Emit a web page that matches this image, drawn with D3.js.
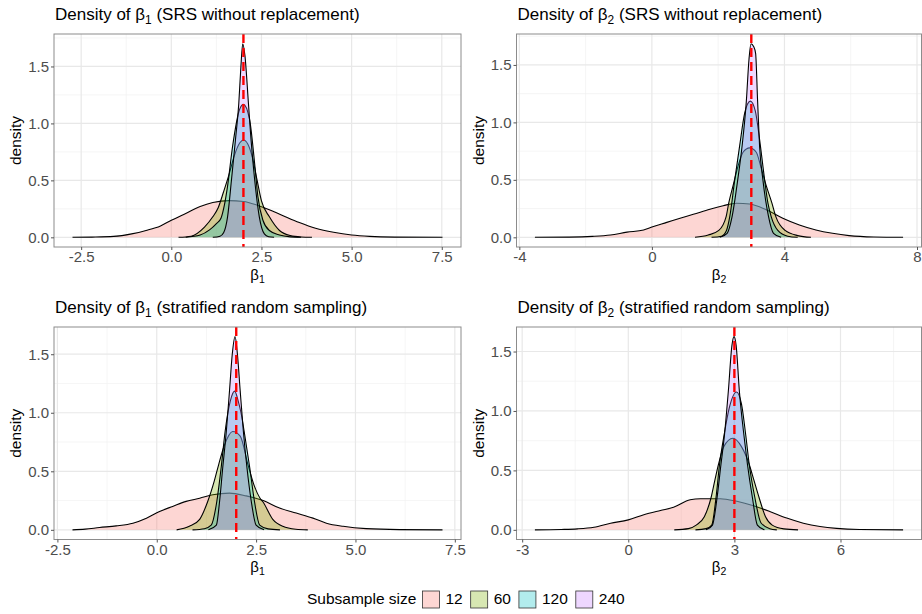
<!DOCTYPE html>
<html>
<head>
<meta charset="utf-8">
<script src="https://cdn.jsdelivr.net/npm/d3@7"></script>
<style>
  body { margin: 0; background: #fff; }
  text { font-family: "Liberation Sans", Arial, Helvetica, sans-serif; }
</style>
</head>
<body>
<svg id="chart" width="922" height="614"></svg>
<script>
// subsample sizes and their fills
const sizes = ["12", "60", "120", "240"];
const fills = ["#F8766D", "#7CAE00", "#00BFC4", "#C77CFF"];

// beta1, SRS without replacement: [estimate, density]
const b1Srs12 = [[-2.74,0],[-2.2,0.002],[-1.6,0.008],[-1.1,0.03],[-0.7,0.06],[-0.3,0.1],[0,0.15],[0.4,0.21],[0.8,0.27],[1.15,0.305],[1.6,0.322],[2.0,0.315],[2.4,0.28],[2.7,0.245],[3.1,0.19],[3.55,0.13],[4.0,0.08],[4.5,0.044],[5.0,0.02],[5.5,0.008],[6.2,0.002],[7.52,0]];
const b1Srs60 = [[0.2,0],[0.55,0.01],[0.92,0.09],[1.15,0.18],[1.3,0.26],[1.45,0.4],[1.6,0.55],[1.75,0.72],[1.9,0.83],[2.0,0.855],[2.12,0.82],[2.25,0.7],[2.38,0.5],[2.5,0.32],[2.72,0.18],[3.0,0.06],[3.3,0.015],[3.6,0.003],[3.9,0]];
const b1Srs120 = [[0.4,0],[0.8,0.02],[1.06,0.065],[1.25,0.12],[1.38,0.17],[1.47,0.28],[1.56,0.45],[1.7,0.8],[1.89,1.12],[2.0,1.167],[2.17,1.035],[2.31,0.65],[2.4,0.36],[2.54,0.15],[2.72,0.06],[3.0,0.02],[3.3,0.004],[3.6,0]];
const b1Srs240 = [[1.15,0],[1.35,0.01],[1.45,0.04],[1.56,0.18],[1.67,0.51],[1.78,0.86],[1.87,1.17],[1.93,1.5],[1.98,1.7],[2.04,1.6],[2.14,1.17],[2.21,0.86],[2.31,0.51],[2.44,0.18],[2.58,0.03],[2.7,0.005],[2.85,0]];

// beta2, SRS without replacement
const b2Srs12 = [[-3.53,0],[-2.5,0.002],[-1.8,0.008],[-1.25,0.02],[-0.75,0.045],[-0.25,0.064],[0,0.09],[0.45,0.13],[0.85,0.166],[1.25,0.2],[1.75,0.245],[2.15,0.275],[2.55,0.297],[2.95,0.29],[3.45,0.24],[3.95,0.166],[4.45,0.107],[4.95,0.064],[5.45,0.035],[5.95,0.015],[6.7,0.003],[7.58,0]];
const b2Srs60 = [[1.3,0],[1.7,0.02],[2.02,0.06],[2.24,0.18],[2.32,0.3],[2.45,0.45],[2.6,0.62],[2.75,0.74],[2.95,0.778],[3.15,0.74],[3.3,0.6],[3.45,0.45],[3.62,0.3],[3.74,0.18],[4.02,0.06],[4.4,0.015],[4.8,0]];
const b2Srs120 = [[1.8,0],[2.1,0.01],[2.25,0.06],[2.35,0.18],[2.5,0.5],[2.65,0.8],[2.8,1.08],[2.97,1.185],[3.12,1.1],[3.25,0.85],[3.38,0.55],[3.5,0.3],[3.6,0.18],[3.8,0.06],[4.1,0.01],[4.4,0]];
const b2Srs240 = [[2.05,0],[2.27,0.035],[2.42,0.18],[2.59,0.5],[2.72,0.79],[2.85,1.185],[2.93,1.55],[2.99,1.685],[3.07,1.66],[3.13,1.6],[3.19,1.185],[3.25,0.79],[3.35,0.5],[3.52,0.18],[3.67,0.035],[3.9,0]];

// beta1, stratified random sampling
const b1Str12 = [[-2.12,0],[-1.8,0.006],[-1.44,0.02],[-1.02,0.034],[-0.6,0.057],[-0.26,0.1],[0.07,0.157],[0.4,0.2],[0.74,0.243],[1.08,0.27],[1.41,0.3],[1.83,0.314],[2.25,0.29],[2.68,0.25],[3.09,0.186],[3.51,0.143],[3.93,0.1],[4.27,0.057],[4.69,0.03],[5.27,0.01],[6.11,0.002],[7.19,0]];
const b1Str60 = [[0.5,0],[0.82,0.03],[1.08,0.09],[1.28,0.24],[1.45,0.42],[1.56,0.56],[1.7,0.72],[1.91,0.84],[2.1,0.8],[2.3,0.55],[2.45,0.38],[2.6,0.27],[2.67,0.24],[2.92,0.09],[3.17,0.03],[3.5,0.005],[3.8,0]];
const b1Str120 = [[0.9,0],[1.2,0.01],[1.37,0.04],[1.51,0.24],[1.62,0.53],[1.72,0.84],[1.85,1.1],[1.96,1.185],[2.05,1.1],[2.12,1.0],[2.2,0.84],[2.34,0.53],[2.46,0.24],[2.59,0.04],[2.8,0.008],[3.1,0]];
const b1Str240 = [[1.3,0],[1.5,0.04],[1.58,0.24],[1.66,0.53],[1.75,0.84],[1.83,1.185],[1.9,1.5],[1.97,1.65],[2.03,1.5],[2.1,1.185],[2.18,0.84],[2.27,0.53],[2.38,0.24],[2.5,0.04],[2.7,0]];

// beta2, stratified random sampling
const b2Str12 = [[-2.64,0],[-1.9,0.003],[-1.44,0.008],[-0.97,0.022],[-0.5,0.056],[0,0.084],[0.44,0.127],[0.91,0.163],[1.28,0.19],[1.75,0.253],[2.04,0.262],[2.6,0.262],[3.07,0.24],[3.54,0.203],[4.0,0.155],[4.48,0.099],[4.95,0.056],[5.42,0.028],[5.89,0.012],[6.54,0.003],[7.77,0]];
const b2Str60 = [[1.3,0],[1.7,0.01],[1.92,0.04],[2.15,0.11],[2.34,0.27],[2.45,0.42],[2.55,0.55],[2.7,0.7],[2.96,0.77],[3.2,0.7],[3.42,0.55],[3.55,0.42],[3.7,0.27],[3.88,0.11],[4.07,0.04],[4.4,0.008],[4.8,0]];
const b2Str120 = [[1.9,0],[2.2,0.01],[2.36,0.04],[2.48,0.27],[2.58,0.55],[2.71,0.8],[2.85,1.02],[3.06,1.16],[3.2,1.06],[3.32,0.8],[3.42,0.55],[3.58,0.27],[3.75,0.06],[4.0,0.01],[4.2,0]];
const b2Str240 = [[2.2,0],[2.38,0.04],[2.51,0.27],[2.62,0.55],[2.71,0.77],[2.83,1.17],[2.93,1.55],[2.99,1.625],[3.05,1.55],[3.14,1.17],[3.28,0.77],[3.37,0.55],[3.51,0.27],[3.65,0.04],[3.85,0]];

// true parameter values (red dashed lines)
const trueB1 = 2, trueB2 = 3;

// tick values and labels
const b1Ticks = [-2.5, 0, 2.5, 5, 7.5];
const b1TickLabels = ["-2.5", "0.0", "2.5", "5.0", "7.5"];
const b2SrsTicks = [-4, 0, 4, 8];
const b2StrTicks = [-3, 0, 3, 6];
const densTicks = [0, 0.5, 1, 1.5];
const densTickLabels = ["0.0", "0.5", "1.0", "1.5"];

const panels = [
  {sub: "1", method: "SRS without replacement", curves: [b1Srs12, b1Srs60, b1Srs120, b1Srs240], truth: trueB1,
   xt: b1Ticks, xl: b1TickLabels, L: 54, R: 461, T: 34, B: 247, titleY: 20},
  {sub: "2", method: "SRS without replacement", curves: [b2Srs12, b2Srs60, b2Srs120, b2Srs240], truth: trueB2,
   xt: b2SrsTicks, xl: b2SrsTicks.map(String), L: 516.5, R: 921.5, T: 34, B: 247, titleY: 20},
  {sub: "1", method: "stratified random sampling", curves: [b1Str12, b1Str60, b1Str120, b1Str240], truth: trueB1,
   xt: b1Ticks, xl: b1TickLabels, L: 54, R: 461, T: 327, B: 539.5, titleY: 313},
  {sub: "2", method: "stratified random sampling", curves: [b2Str12, b2Str60, b2Str120, b2Str240], truth: trueB2,
   xt: b2StrTicks, xl: b2StrTicks.map(String), L: 516.5, R: 921.5, T: 327, B: 539.5, titleY: 313}
];

const svg = d3.select("#chart");

function minorOf(ticks) {
  const step = ticks[1] - ticks[0];
  const out = [ticks[0] - step / 2];
  ticks.forEach(t => out.push(t + step / 2));
  return out;
}

function betaText(sel, sub, before, after) {
  if (before) sel.append("tspan").text(before);
  sel.append("tspan").text("β");
  sel.append("tspan").attr("font-size", "70%").attr("dy", "0.3em").text(sub);
  if (after) sel.append("tspan").attr("dy", "-0.21em").text(after);
}

panels.forEach(function(p, pi) {
  const all = p.curves.flat();
  const ext = d3.extent(all, d => d[0]);
  const pad = (ext[1] - ext[0]) * 0.05;
  const ymax = d3.max(all, d => d[1]);

  const x = d3.scaleLinear().domain([ext[0] - pad, ext[1] + pad]).range([p.L, p.R]);
  const y = d3.scaleLinear().domain([-0.05 * ymax, 1.05 * ymax]).range([p.B, p.T]);

  const g = svg.append("g");
  g.append("clipPath").attr("id", "clip" + pi)
    .append("rect").attr("x", p.L).attr("y", p.T).attr("width", p.R - p.L).attr("height", p.B - p.T);

  const plot = g.append("g").attr("clip-path", "url(#clip" + pi + ")");

  // grid
  const xd = x.domain(), yd = y.domain();
  plot.selectAll(".xminor").data(minorOf(p.xt).filter(v => v > xd[0] && v < xd[1])).enter()
    .append("line").attr("x1", d => x(d)).attr("x2", d => x(d)).attr("y1", p.T).attr("y2", p.B)
    .attr("stroke", "#f0f0f0").attr("stroke-width", 0.7);
  plot.selectAll(".yminor").data(minorOf(densTicks).filter(v => v > yd[0] && v < yd[1])).enter()
    .append("line").attr("y1", d => y(d)).attr("y2", d => y(d)).attr("x1", p.L).attr("x2", p.R)
    .attr("stroke", "#f0f0f0").attr("stroke-width", 0.7);
  plot.selectAll(".xmajor").data(p.xt).enter()
    .append("line").attr("x1", d => x(d)).attr("x2", d => x(d)).attr("y1", p.T).attr("y2", p.B)
    .attr("stroke", "#e8e8e8").attr("stroke-width", 1.2);
  plot.selectAll(".ymajor").data(densTicks).enter()
    .append("line").attr("y1", d => y(d)).attr("y2", d => y(d)).attr("x1", p.L).attr("x2", p.R)
    .attr("stroke", "#e8e8e8").attr("stroke-width", 1.2);

  const area = d3.area().x(d => x(d[0])).y0(y(0)).y1(d => y(d[1])).curve(d3.curveMonotoneX);
  const line = d3.line().x(d => x(d[0])).y(d => y(d[1])).curve(d3.curveMonotoneX);

  p.curves.forEach(function(c, i) {
    plot.append("path").datum(c).attr("d", area)
      .attr("fill", fills[i]).attr("fill-opacity", 0.3);
    plot.append("path").datum(c).attr("d", line)
      .attr("fill", "none").attr("stroke", "#000").attr("stroke-width", 1.1);
  });

  plot.append("line")
    .attr("x1", x(p.truth)).attr("x2", x(p.truth)).attr("y1", p.T).attr("y2", p.B)
    .attr("stroke", "#ff0000").attr("stroke-width", 2.4).attr("stroke-dasharray", "9,5");

  g.append("rect").attr("x", p.L).attr("y", p.T).attr("width", p.R - p.L).attr("height", p.B - p.T)
    .attr("fill", "none").attr("stroke", "#8c8c8c").attr("stroke-width", 1);

  const xAxis = d3.axisBottom(x).tickValues(p.xt).tickFormat((d, i) => p.xl[i]).tickSize(3).tickPadding(1.5);
  const yAxis = d3.axisLeft(y).tickValues(densTicks).tickFormat((d, i) => densTickLabels[i]).tickSize(3).tickPadding(2);

  const ax = g.append("g").attr("transform", "translate(0," + p.B + ")").call(xAxis);
  const ay = g.append("g").attr("transform", "translate(" + p.L + ",0)").call(yAxis);
  [ax, ay].forEach(function(a) {
    a.select(".domain").remove();
    a.selectAll(".tick line").attr("stroke", "#555");
    a.selectAll(".tick text").attr("fill", "#4d4d4d").attr("font-size", 15)
      .style("font-family", "'Liberation Sans', Arial, sans-serif");
  });

  // titles
  betaText(g.append("text").attr("x", p.L + 1).attr("y", p.titleY).attr("font-size", 17).attr("fill", "#000"),
    p.sub, "Density of ", " (" + p.method + ")");
  betaText(g.append("text").attr("x", (p.L + p.R) / 2).attr("y", p.B + 32.5).attr("text-anchor", "middle")
    .attr("font-size", 15).attr("fill", "#000"), p.sub);
  g.append("text")
    .attr("transform", "translate(" + (p.L - 33) + "," + ((p.T + p.B) / 2) + ") rotate(-90)")
    .attr("text-anchor", "middle").attr("font-size", 15.5).attr("fill", "#000").text("density");
});

// legend, laid out from measured text widths
const leg = svg.append("g").attr("transform", "translate(307,604)");
const legTitle = leg.append("text").attr("x", 0).attr("y", 0).attr("font-size", 15.5).text("Subsample size");
let cx = legTitle.node().getComputedTextLength() + 6;
sizes.forEach(function(s, i) {
  leg.append("rect").attr("x", cx).attr("y", -13).attr("width", 17).attr("height", 17)
    .attr("fill", fills[i]).attr("fill-opacity", 0.3).attr("stroke", "#333").attr("stroke-width", 0.8);
  const t = leg.append("text").attr("x", cx + 17 + 6).attr("y", 0).attr("font-size", 15.5).text(s);
  cx += 17 + 6 + t.node().getComputedTextLength() + 8;
});
</script>
</body>
</html>
